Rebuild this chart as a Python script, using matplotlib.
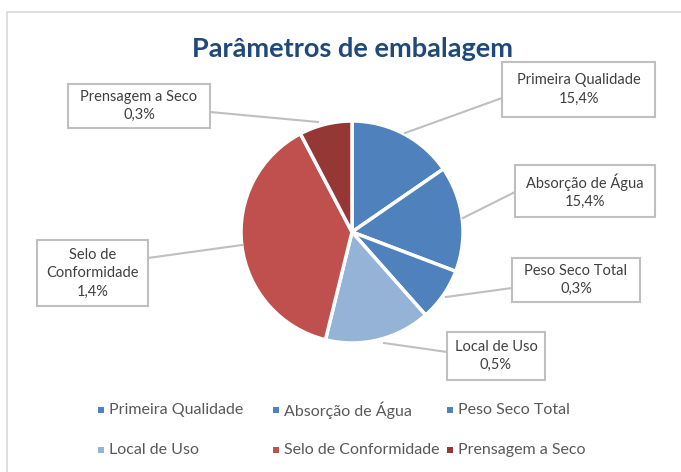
import matplotlib.pyplot as plt
from matplotlib.patches import Rectangle

# -------------------------------------------------------
# DADOS
# -------------------------------------------------------
categorias = ['Primeira Qualidade', 'Absorção de Água', 'Peso Seco Total',
              'Local de Uso', 'Selo de Conformidade', 'Prensagem a Seco']
valores = [15.4, 15.4, 7.7, 15.4, 38.5, 7.7]   # tamanho das fatias
rotulos = ['15,4%', '15,4%', '0,3%', '0,5%', '1,4%', '0,3%']  # texto dos rótulos
cores = ['#4F81BD', '#4F81BD', '#4F81BD', '#95B3D7', '#C0504D', '#953735']

# caixas dos rótulos (x0, y0, x1, y1 em pixels, y para baixo) e linhas guia
caixas = [(502, 62, 655, 117), (515, 165, 655, 217), (512, 258, 640, 302),
          (447, 332, 545, 380), (37, 240, 148, 306), (68, 84, 210, 128)]
guias = [((502, 98), (405, 133)), ((515, 192), (463, 218)), ((512, 288), (446, 297)),
         ((447, 352), (384, 343)), ((148, 258), (242, 245)), ((210, 112), (318, 122))]
textos_caixa = ['Primeira Qualidade', 'Absorção de Água', 'Peso Seco Total',
                'Local de Uso', 'Selo de\nConformidade', 'Prensagem a Seco']

W, H = 681, 472
plt.rcParams['font.family'] = ['Lato', 'DejaVu Sans']

fig = plt.figure(figsize=(W / 100, H / 100), dpi=100)
ax = fig.add_axes([0, 0, 1, 1])

def py(y):
    return H - y

# pizza
ax.pie(valores, colors=cores, startangle=90, counterclock=False,
       center=(352, py(232)), radius=111,
       wedgeprops=dict(edgecolor='white', linewidth=2.5), frame=True)
ax.set_xlim(0, W)
ax.set_ylim(0, H)
ax.axis('off')

# borda do gráfico
ax.plot([7, 7, W + 5], [py(H + 5), py(12), py(12)], color='#D9D9D9', lw=1.2)

# título
ax.text(352, py(49), 'Parâmetros de embalagem', ha='center', va='center',
        fontsize=19.5, fontweight='bold', color='#1F497D')

# linhas guia e caixas
for (p0, p1) in guias:
    ax.plot([p0[0], p1[0]], [py(p0[1]), py(p1[1])], color='#BFBFBF', lw=1.5, zorder=3)

for (x0, y0, x1, y1), txt, rot in zip(caixas, textos_caixa, rotulos):
    ax.add_patch(Rectangle((x0, py(y1)), x1 - x0, y1 - y0, facecolor='white',
                           edgecolor='#BFBFBF', lw=1.5, zorder=4))
    ax.text((x0 + x1) / 2, py((y0 + y1) / 2), txt + '\n' + rot, ha='center', va='center',
            fontsize=10.5, color='#404040', linespacing=1.4, zorder=5)

# legenda
leg_x = [101, 276, 450]
leg_y = [410, 450]
for i, (cat, cor) in enumerate(zip(categorias, cores)):
    lx = leg_x[i % 3]
    ly = leg_y[i // 3]
    ax.add_patch(Rectangle((lx - 3, py(ly) - 3), 6, 6, facecolor=cor, edgecolor='none'))
    ax.text(lx + 8, py(ly), cat, ha='left', va='center', fontsize=11.5, color='#595959')

fig.savefig('out.png', dpi=100)
